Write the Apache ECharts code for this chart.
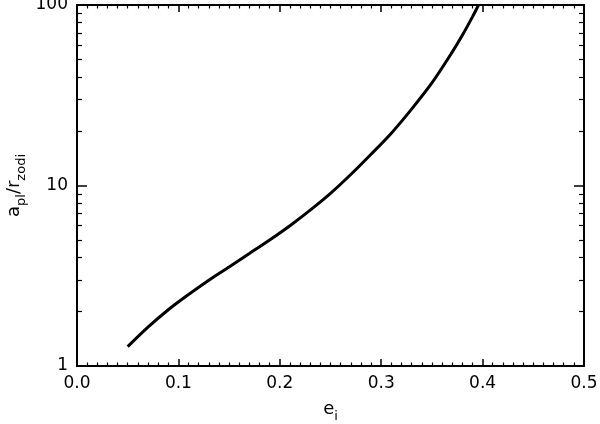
<!DOCTYPE html>
<html>
<head>
<meta charset="utf-8">
<script src="https://cdn.jsdelivr.net/npm/echarts@6/dist/echarts.min.js"></script>
<style>
html,body{margin:0;padding:0;background:#fff;}
#chart{width:600px;height:424px;}
</style>
</head>
<body>
<div id="chart"></div>
<script>
// Data
const eValues = [0.050, 0.070, 0.090, 0.110, 0.130, 0.150, 0.170, 0.190, 0.210, 0.230, 0.250, 0.270, 0.290, 0.310, 0.330, 0.350, 0.370, 0.380, 0.390, 0.396];
const ratioValues = [1.28, 1.64, 2.05, 2.49, 2.99, 3.54, 4.20, 4.99, 5.99, 7.30, 9.04, 11.5, 14.9, 19.5, 26.5, 37.0, 54.8, 67.9, 85.9, 100];
const xTickLabels = ['0.0', '0.1', '0.2', '0.3', '0.4', '0.5'];
const yMajorTicks = [1, 10, 100];
const yMinorTicks = [2, 3, 4, 5, 6, 7, 8, 9, 20, 30, 40, 50, 60, 70, 80, 90];

const FONT = 'DejaVu Sans';
const chart = echarts.init(document.getElementById('chart'), null, {renderer: 'canvas'});
const axisLine = {show: true, onZero: false, lineStyle: {color: '#000', width: 2}};
const xBase = {
  type: 'value', min: 0, max: 0.5, interval: 0.1,
  axisLine: axisLine,
  splitLine: {show: false},
  axisTick: {show: true, inside: true, length: 7, lineStyle: {color: '#000', width: 1.5}},
  minorTick: {show: true, splitNumber: 10, length: 3.5, lineStyle: {color: '#000', width: 1.2}},
  minorSplitLine: {show: false}
};
const yBase = {
  type: 'log', logBase: 10, min: 1, max: 100,
  axisLine: axisLine,
  splitLine: {show: false},
  axisTick: {show: true, inside: true, length: 10, lineStyle: {color: '#000', width: 1.5}}
};
const yMinor = {
  type: 'log', logBase: 10, min: 1, max: 100,
  axisLine: {show: false, onZero: false},
  splitLine: {show: false},
  axisLabel: {show: false},
  axisTick: {show: true, inside: true, length: 5, customValues: yMinorTicks, lineStyle: {color: '#000', width: 1.2}}
};
const richName = {
  m: {fontFamily: FONT, fontSize: 18, color: '#000', lineHeight: 24, verticalAlign: 'top'},
  s: {fontFamily: FONT, fontSize: 13, color: '#000', lineHeight: 24, padding: [10, 0, 0, 0]}
};

chart.setOption({
  animation: false,
  backgroundColor: '#fff',
  grid: {left: 77, right: 16, top: 5, bottom: 58, containLabel: false, outerBoundsMode: 'none'},
  xAxis: [
    Object.assign({}, xBase, {
      position: 'bottom',
      name: '{m|e}{s|i}', nameLocation: 'middle', nameGap: 34, nameMoveOverlap: false,
      nameTextStyle: {rich: richName},
      axisLabel: {show: true, margin: 9, color: '#000', fontFamily: FONT, fontSize: 17,
        formatter: function (v) { return xTickLabels[Math.round(v * 10)]; }}
    }),
    Object.assign({}, xBase, {position: 'top', axisLabel: {show: false}})
  ],
  yAxis: [
    Object.assign({}, yBase, {
      position: 'left',
      name: '{m|a}{s|pl}{m|/r}{s|zodi}', nameLocation: 'middle', nameGap: 48, nameMoveOverlap: false,
      nameTextStyle: {rich: richName},
      axisLabel: {show: true, margin: 9, color: '#000', fontFamily: FONT, fontSize: 17,
        customValues: yMajorTicks,
        formatter: function (v) { return String(Math.round(v)); }}
    }),
    Object.assign({}, yBase, {position: 'right', axisLabel: {show: false}}),
    Object.assign({}, yMinor, {position: 'left'}),
    Object.assign({}, yMinor, {position: 'right'})
  ],
  series: [{
    type: 'line',
    xAxisIndex: 0, yAxisIndex: 0,
    data: eValues.map((e, i) => [e, ratioValues[i]]),
    smooth: 0.3,
    showSymbol: false,
    symbol: 'none',
    lineStyle: {color: '#000', width: 3},
    itemStyle: {color: '#000'}
  }]
});
</script>
</body>
</html>
